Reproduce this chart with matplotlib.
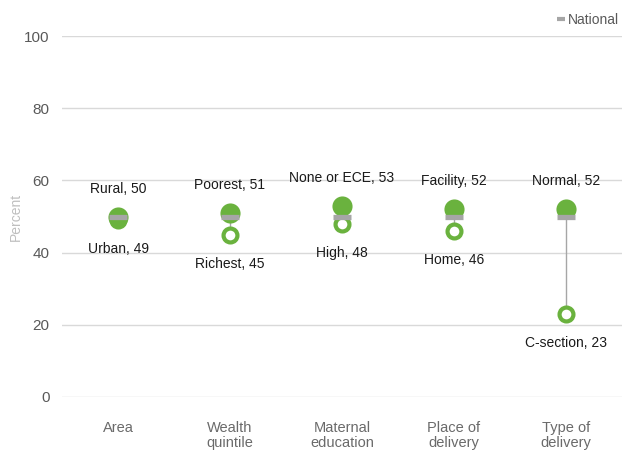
import matplotlib
matplotlib.use("Agg")
import matplotlib.pyplot as plt
from matplotlib.lines import Line2D

categories = ["Area", "Wealth\nquintile", "Maternal\neducation", "Place of\ndelivery", "Type of\ndelivery"]
high_labels = ["Rural", "Poorest", "None or ECE", "Facility", "Normal"]
high_values = [50, 51, 53, 52, 52]
low_labels = ["Urban", "Richest", "High", "Home", "C-section"]
low_values = [49, 45, 48, 46, 23]
national = [50, 50, 50, 50, 50]
yticks = [0, 20, 40, 60, 80, 100]

plt.rcParams['font.family'] = ['Liberation Sans', 'DejaVu Sans']

fig = plt.figure(figsize=(6.22, 4.51), dpi=100)
ax = fig.add_axes([62/622, 1-397/451, 560/622, 361/451])

green = "#6ab23e"
grey = "#a6a6a6"
xs = list(range(len(categories)))

for x, h, l in zip(xs, high_values, low_values):
    ax.plot([x, x], [h, l], color=grey, lw=1, zorder=2, clip_on=False)

ax.scatter(xs, low_values, s=100, facecolor="white", edgecolor=green, linewidths=3.0, zorder=3, clip_on=False)
ax.scatter(xs, high_values, s=210, color=green, zorder=4, clip_on=False, linewidths=0)
for x, n in zip(xs, national):
    ax.plot([x - 0.08, x + 0.08], [n, n], color=grey, lw=3.8, solid_capstyle="butt", zorder=5, clip_on=False)

for x, lab, v in zip(xs, high_labels, high_values):
    ax.annotate(f"{lab}, {v}", (x, v), xytext=(0, 15), textcoords="offset points",
                ha="center", va="bottom", fontsize=10, color="#1a1a1a")
for x, lab, v in zip(xs, low_labels, low_values):
    ax.annotate(f"{lab}, {v}", (x, v), xytext=(0, -16), textcoords="offset points",
                ha="center", va="top", fontsize=10, color="#1a1a1a")

ax.set_xlim(-0.5, len(categories) - 0.5)
ax.set_ylim(0, 100)
ax.set_yticks(yticks)
ax.set_yticklabels([str(t) for t in yticks])
ax.set_xticks(xs)
ax.set_xticklabels(categories)
ax.grid(axis="y", color="#d9d9d9", lw=1)
ax.set_axisbelow(True)
for s in ax.spines.values():
    s.set_visible(False)
ax.tick_params(axis="y", length=0, pad=9, labelsize=11, labelcolor="#595959")
ax.tick_params(axis="x", length=0, pad=17, labelsize=10.5, labelcolor="#6a6a6a")
for t in ax.get_xticklabels():
    t.set_linespacing(1.15)
ax.set_ylabel("Percent", color="#bfbfbf", fontsize=10)
ax.yaxis.set_label_coords(-(62 - 23) / 560, 0.5)

# legend
h = Line2D([], [], color=grey, lw=3, solid_capstyle="butt")
fig.legend([h], ["National"], loc="upper right", bbox_to_anchor=(1.015, 1.0),
           frameon=False, fontsize=10, handlelength=0.6, handletextpad=0.2,
           labelcolor="#595959")

fig.savefig("out.png", dpi=100)
